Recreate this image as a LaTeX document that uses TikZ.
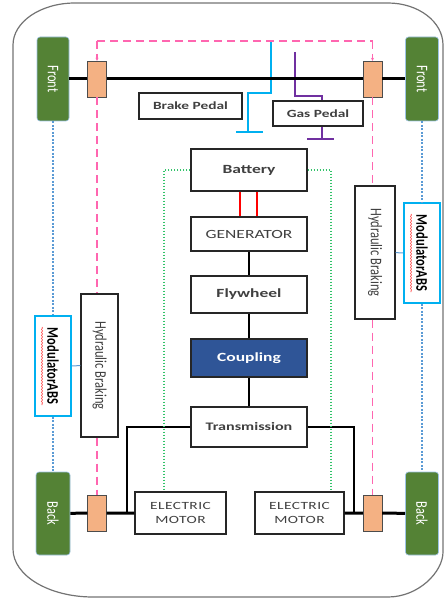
\documentclass[tikz,border=0pt]{standalone}
\usepackage{fontspec}
\usepackage{graphicx}
\setmainfont{Carlito}
\newfontfamily\widefont{Carlito}[FakeStretch=1.4]
\newfontfamily\motorfont{Carlito}[FakeStretch=1.4,LetterSpace=4]
\usetikzlibrary{arrows.meta,decorations.pathmorphing}
\definecolor{tyre}{HTML}{548235}
\definecolor{hubfill}{HTML}{F4B183}
\definecolor{couplingblue}{HTML}{2F5597}
\definecolor{brakecyan}{HTML}{00B0F0}
\definecolor{gaspurple}{HTML}{7030A0}
\definecolor{hydpink}{HTML}{FF66B0}
\definecolor{absdot}{HTML}{5B9BD5}
\definecolor{elecgreen}{HTML}{33C36A}
\newcommand{\sidetext}[1]{\rotatebox{-90}{\scalebox{1}[1.3]{#1}}}
\tikzset{
    >=Stealth,
    car/.style={
        shell/.style={draw=black!55,line width=1.2pt},
        wheel/.style={draw=absdot!60,line width=0.6pt,fill=tyre,rounded corners=3pt,text=white,inner sep=0pt,font=\fontsize{12.5}{14}\selectfont},
        hub/.style={draw=black!70,fill=hubfill,thin,minimum width=19pt,minimum height=36pt,inner sep=0pt},
        box/.style={draw=black!85,line width=1.4pt,fill=white,text=black!75,inner sep=0pt,font=\widefont\bfseries\fontsize{12.5}{14}\selectfont},
        pedal/.style={box,font=\widefont\bfseries\fontsize{11}{13}\selectfont},
        motor/.style={box,align=center,font=\motorfont\fontsize{11}{13.5}\selectfont},
        hyd/.style={box,font=\fontsize{12.5}{14}\selectfont},
        abs/.style={draw=brakecyan,line width=1.6pt,fill=white,inner sep=0pt,font=\bfseries\fontsize{12.5}{14}\selectfont},
        axle/.style={draw,line width=3pt},
        drive/.style={draw,line width=2pt},
        link/.style={draw,line width=1.5pt},
        hydline/.style={draw=hydpink,line width=1.5pt,dash pattern=on 8pt off 5pt},
        absline/.style={draw=absdot,line width=1.3pt,dash pattern=on 2pt off 1.5pt},
        wire/.style={draw=elecgreen,line width=1.2pt,dash pattern=on 1.5pt off 1.5pt},
        charge/.style={draw=red,line width=1.5pt},
        squig/.style={draw=red!80,line width=0.6pt,decorate,decoration={snake,amplitude=0.5pt,segment length=3pt}}
    }
}
\begin{document}
\begin{tikzpicture}[car,x=1pt,y=-1pt]
    \useasboundingbox (0,0) rectangle (444,599);
    \draw[shell] (13,45) .. controls (13,21.8) and (40.8,3) .. (75,3) -- (388,3)
        .. controls (418.4,3) and (443,21.8) .. (443,45) -- (443,552)
        .. controls (443,572) and (418.4,597) .. (388,597) -- (93,597)
        .. controls (48.8,597) and (13,575.5) .. (13,549) -- cycle;
    % pedal stems
    \draw[brakecyan,line width=2pt] (271,41) -- ++(0,52) -- ++(-23,0) -- ++(0,39) ++(-12,0) -- ++(27,0);
    \draw[gaspurple,line width=2pt] (295,52) -- ++(0,44) -- ++(27,0) -- ++(0,43) ++(-15,0) -- ++(27,0);

    \node[wheel,minimum width=32pt,minimum height=84pt] (fl) at (53,79) {\sidetext{Front}};
    \node[wheel,minimum width=33pt,minimum height=84pt] (fr) at (422,79) {\sidetext{Front}};
    \node[wheel,minimum width=34pt,minimum height=83pt] (bl) at (53,513.5) {\sidetext{Back}};
    \node[wheel,minimum width=33pt,minimum height=83pt] (br) at (422,513.5) {\sidetext{Back}};
    \node[hub] (hfl) at (97,79) {};
    \node[hub] (hfr) at (372.5,79) {};
    \node[hub] (hbl) at (97,513) {};
    \node[hub] (hbr) at (372.5,513) {};

    \node[pedal,minimum width=103pt,minimum height=26pt] (brake) at (190.5,106) {Brake Pedal};
    \node[pedal,minimum width=90pt,minimum height=25pt] (gas) at (318,113.5) {Gas Pedal};

    \node[box,minimum width=116pt,minimum height=42pt] (bat) at (249,170) {Battery};
    \node[box,font=\widefont\fontsize{12.5}{14}\selectfont,minimum width=116pt,minimum height=34pt] (gen) at (249,234) {GENERATOR};
    \node[box,minimum width=116pt,minimum height=37pt] (fly) at (249,294.5) {Flywheel};
    \node[box,fill=couplingblue,text=white,minimum width=116pt,minimum height=38pt] (cpl) at (249,358) {Coupling};
    \node[box,font=\widefont\bfseries\fontsize{11.5}{14}\selectfont,minimum width=116pt,minimum height=40pt] (trans) at (249,427) {Transmission};
    \node[motor,minimum width=91pt,minimum height=42pt] (ml) at (180.5,513) {ELECTRIC\\MOTOR};
    \node[motor,minimum width=89pt,minimum height=42pt] (mr) at (299.5,513) {ELECTRIC\\MOTOR};

    \node[hyd,minimum width=37pt,minimum height=143pt] (hydl) at (99.5,365.5) {\sidetext{Hydraulic Braking}};
    \node[hyd,minimum width=40pt,minimum height=133pt] (hydr) at (375,252.5) {\sidetext{Hydraulic Braking}};
    \node[abs,minimum width=36pt,minimum height=100pt] (absl) at (53,366) {\sidetext{ModulatorABS}};
    \node[abs,minimum width=36pt,minimum height=100pt] (absr) at (422,253) {\sidetext{ModulatorABS}};
    \draw[squig] (absl.center) ++(-11,-39) -- ++(0,78);
    \draw[squig] (absr.center) ++(-11,-39) -- ++(0,78);

    % axles
    \path[axle] (fl) -- (hfl) (hfl) -- (hfr) (hfr) -- (fr);
    \path[axle] (bl) -- (hbl) (hbl) -- (ml) (mr) -- (hbr) (hbr) -- (br);
    \coordinate (tl) at (127,513);
    \coordinate (tr) at (354,513);
    \path[drive] (trans.west) -| (tl);
    \path[drive] (trans.east) -| (tr);

    % drive train
    \path[link] (gen) -- (fly);
    \path[link] (fly) -- (cpl);
    \path[link] (cpl) -- (trans);
    \path[charge] ([xshift=-9pt]bat.south) -- ([xshift=-9pt]gen.north);
    \path[charge] ([xshift=8pt]bat.south) -- ([xshift=8pt]gen.north);
    \path[wire] (bat.west) -| ([xshift=-16.5pt]ml.north);
    \path[wire] (bat.east) -| ([xshift=31.5pt]mr.north);

    % brake circuit
    \path[hydline,-{Stealth[length=3pt,width=3pt]}] ([yshift=20pt]hfl.north) -- (hfl.north);
    \path[hydline,-{Stealth[length=3pt,width=3pt]}] ([yshift=20pt]hfr.north) -- (hfr.north);
    \path[hydline] ([yshift=20pt]hfl.north) -- ([yshift=20pt]hfr.north);
    \path[hydline] (hfl.south) -- (hfl.south |- hydl.north);
    \path[hydline] (hbl.north |- hydl.south) -- (hbl.north);
    \path[hydline] (hfr.south) -- (hfr.south |- hydr.north);
    \path[hydline] (hbr.north |- hydr.south) -- (hbr.north);
    \path[absline] (fl) -- (absl);
    \path[absline] (absl) -- (bl);
    \path[absline] (fr) -- (absr);
    \path[absline] (absr) -- (br);
    \path[draw=absdot,line width=1pt] (absl) -- (hydl);
    \path[draw=absdot,line width=1pt] (hydr) -- (absr);
\end{tikzpicture}
\end{document}
